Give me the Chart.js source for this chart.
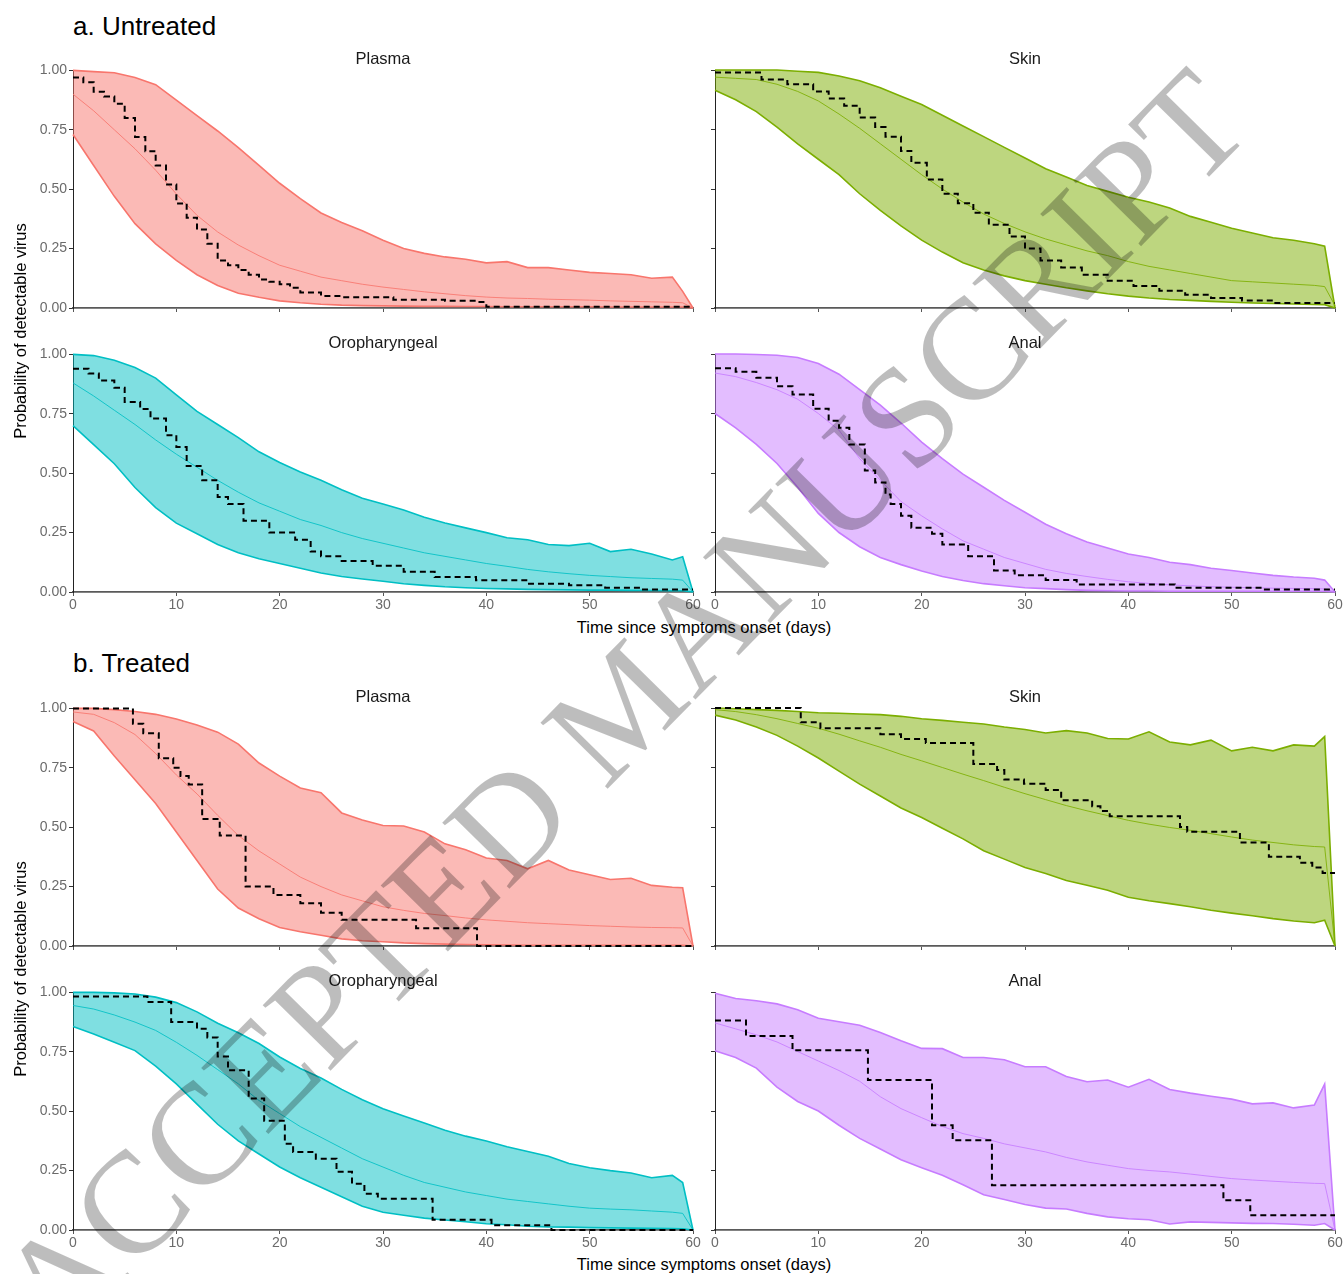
<!DOCTYPE html>
<html><head><meta charset="utf-8">
<script src="https://cdn.jsdelivr.net/npm/chart.js@4/dist/chart.umd.min.js"></script>
<style>
body{margin:0;width:1344px;height:1274px;position:relative;background:#fff;overflow:hidden;font-family:"Liberation Sans",Arial,sans-serif;}
canvas{position:absolute;}
.t{position:absolute;white-space:nowrap;}
.sec{font-size:26px;color:#000;}
.strip{font-size:16.5px;color:#1a1a1a;transform:translate(-50%,-50%);}
.axt{font-size:16.5px;color:#000;transform:translate(-50%,-50%);}
.yt{font-size:16.5px;color:#000;transform:translate(-50%,-50%) rotate(-90deg);}
#wm{position:absolute;left:622px;top:705px;transform:translate(-50%,-50%) rotate(-45.5deg);font-family:"Liberation Serif","Times New Roman",serif;font-size:144px;color:rgba(0,0,0,0.26);white-space:nowrap;pointer-events:none;}
</style></head><body>
<script>
// ---- data ----
const days = [0,2,4,6,8,10,12,14,16,18,20,22,24,26,28,30,32,34,36,38,40,42,44,46,48,50,52,54,56,58,59,60];
const xTicks = [0,10,20,30,40,50,60];
const yTicks = [0,0.25,0.5,0.75,1];
const panelNames = ['Plasma','Skin','Oropharyngeal','Anal'];
const sectionTitles = ['a. Untreated','b. Treated'];

// Untreated
const untreatedPlasmaUpper  = [1.00,.995,.99,.97,.94,.875,.81,.745,.675,.60,.525,.46,.40,.36,.325,.285,.25,.23,.215,.205,.19,.195,.17,.17,.16,.15,.145,.14,.125,.13,.07,0];
const untreatedPlasmaMedian = [.90,.83,.75,.67,.58,.48,.39,.32,.265,.22,.18,.155,.13,.115,.10,.088,.078,.068,.06,.052,.046,.042,.04,.037,.035,.033,.03,.028,.026,.024,.022,0];
const untreatedPlasmaLower  = [.73,.60,.47,.355,.27,.20,.14,.095,.062,.045,.03,.022,.016,.012,.01,.009,.008,.007,.007,.006,.006,.005,.005,.005,.005,.005,.004,.004,.004,.004,.004,0];
const untreatedPlasmaKmDays = [0,1,2,3,4,5,6,7,8,9,10,11,12,13,14,15,16,17,18,19,20,21,22,24,26,31,36,39,40,60];
const untreatedPlasmaKmVals = [.97,.95,.91,.89,.86,.80,.72,.66,.60,.52,.44,.38,.33,.27,.20,.18,.16,.14,.12,.11,.10,.085,.065,.05,.045,.035,.03,.025,.005,.005];

const untreatedSkinUpper  = [1.0,1.0,1.0,1.0,.995,.99,.975,.955,.925,.89,.855,.81,.765,.72,.675,.63,.585,.55,.515,.49,.465,.445,.42,.385,.36,.335,.315,.295,.285,.27,.26,0];
const untreatedSkinMedian = [.97,.965,.96,.94,.91,.87,.815,.755,.69,.625,.56,.50,.445,.395,.355,.32,.29,.265,.24,.22,.195,.175,.16,.145,.13,.115,.11,.105,.10,.095,.09,.01];
const untreatedSkinLower  = [.915,.875,.825,.76,.69,.625,.56,.48,.41,.345,.285,.235,.19,.16,.135,.115,.10,.085,.072,.06,.05,.042,.036,.032,.028,.024,.021,.019,.017,.015,.014,0];
const untreatedSkinKmDays = [0,4.5,7,9.5,11,12.5,14,15.5,16.5,18,19,20.5,22,23.5,25,26.5,28.5,30,31.5,33.5,35.5,38,40.5,43,45.5,48,51,54,60];
const untreatedSkinKmVals = [.99,.96,.94,.91,.88,.85,.80,.76,.72,.66,.61,.54,.48,.44,.40,.35,.30,.25,.20,.17,.14,.115,.092,.073,.056,.042,.031,.021,.021];

const untreatedOroUpper  = [1.0,.995,.975,.945,.90,.83,.76,.705,.65,.59,.545,.505,.47,.43,.395,.37,.345,.315,.29,.27,.25,.228,.22,.20,.195,.205,.17,.18,.16,.135,.148,0];
const untreatedOroMedian = [.88,.825,.765,.705,.64,.58,.525,.47,.42,.375,.34,.305,.28,.25,.225,.205,.185,.165,.15,.135,.12,.108,.095,.085,.077,.07,.065,.06,.057,.054,.05,0];
const untreatedOroLower  = [.70,.62,.54,.44,.355,.29,.245,.20,.165,.14,.12,.10,.08,.065,.055,.045,.035,.028,.022,.018,.015,.013,.011,.01,.009,.008,.008,.007,.006,.005,.005,0];
const untreatedOroKmDays = [0,1.5,2.5,4,5,6.5,7.5,9,10,11,12.5,14,15,16.5,19,21.5,23,24,26,29,32,35,39,44,48,51.5,55,60];
const untreatedOroKmVals = [.94,.92,.89,.86,.80,.77,.73,.66,.61,.53,.47,.40,.37,.30,.25,.22,.17,.15,.13,.11,.085,.063,.049,.035,.028,.018,.01,.01];

const untreatedAnalUpper  = [1.0,1.0,.998,.995,.985,.96,.915,.85,.785,.71,.63,.56,.495,.44,.385,.335,.285,.245,.21,.185,.16,.145,.125,.115,.10,.09,.08,.07,.063,.058,.05,0];
const untreatedAnalMedian = [.92,.905,.88,.85,.81,.75,.68,.56,.47,.38,.32,.265,.215,.18,.145,.12,.095,.078,.065,.053,.043,.036,.03,.026,.022,.02,.018,.016,.015,.014,.013,0];
const untreatedAnalLower  = [.75,.69,.62,.54,.44,.33,.25,.19,.145,.115,.088,.065,.048,.035,.026,.018,.014,.01,.007,.005,.004,.004,.003,.003,.003,.003,.003,.003,.003,.003,.003,0];
const untreatedAnalKmDays = [0,2,4,6,7.5,9.5,11,12,13,14.5,15.5,16.5,17,18,19,21,22,24.5,27,29,32,35,44.5,53,60];
const untreatedAnalKmVals = [.94,.925,.90,.865,.83,.77,.72,.69,.62,.51,.46,.41,.37,.32,.27,.245,.20,.15,.09,.07,.05,.032,.018,.011,.011];

// Treated
const treatedPlasmaUpper  = [1.0,1.0,.995,.987,.975,.955,.93,.90,.85,.77,.715,.665,.645,.56,.53,.507,.505,.48,.43,.405,.37,.36,.325,.36,.32,.30,.28,.285,.255,.247,.245,0];
const treatedPlasmaMedian = [.985,.975,.94,.89,.81,.72,.64,.55,.465,.40,.345,.29,.25,.215,.19,.165,.15,.137,.128,.118,.11,.104,.098,.094,.09,.086,.083,.08,.078,.077,.076,0];
const treatedPlasmaLower  = [.945,.905,.80,.70,.60,.48,.36,.24,.16,.115,.078,.06,.045,.03,.022,.018,.013,.01,.008,.006,.005,.004,.003,.003,.003,.003,.003,.003,.003,.003,.003,0];
const treatedPlasmaKmDays = [0,5.8,6.8,8.3,9.7,10.4,11.2,12.5,14.2,16.7,19.4,22,24,26,33.2,39.1,60];
const treatedPlasmaKmVals = [1.0,.935,.895,.79,.75,.715,.68,.535,.465,.25,.215,.18,.14,.11,.075,0,0];

const treatedSkinUpper  = [1.0,.997,.993,.99,.985,.98,.978,.975,.972,.965,.955,.948,.94,.933,.92,.91,.895,.905,.895,.872,.87,.90,.857,.845,.865,.82,.835,.82,.845,.84,.88,0];
const treatedSkinMedian = [.993,.985,.972,.955,.935,.915,.89,.862,.835,.805,.778,.75,.722,.695,.667,.64,.615,.59,.568,.548,.528,.512,.498,.486,.472,.458,.445,.435,.425,.418,.416,0];
const treatedSkinLower  = [.97,.95,.92,.885,.84,.79,.735,.68,.63,.58,.54,.495,.45,.40,.365,.33,.305,.275,.255,.234,.205,.19,.178,.165,.15,.138,.127,.115,.105,.098,.108,0];
const treatedSkinKmDays = [0,8.3,10.2,16,18,20.4,25,27.3,28,29.9,32,33.5,36.5,37.3,38.2,45,45.7,50.8,53.6,56.6,57.8,58.8,60];
const treatedSkinKmVals = [1.0,.94,.915,.89,.87,.853,.765,.74,.70,.682,.655,.612,.587,.567,.545,.50,.48,.435,.375,.35,.33,.307,.307];

const treatedOroUpper  = [1.0,1.0,.998,.993,.98,.957,.918,.87,.83,.785,.728,.68,.64,.592,.548,.51,.48,.45,.42,.395,.375,.35,.33,.31,.28,.262,.25,.24,.22,.23,.20,0];
const treatedOroMedian = [.945,.93,.905,.875,.84,.79,.735,.675,.615,.545,.49,.435,.39,.345,.30,.265,.23,.20,.18,.16,.145,.13,.12,.11,.10,.092,.088,.085,.08,.075,.07,0];
const treatedOroLower  = [.857,.825,.79,.755,.69,.615,.53,.445,.375,.32,.265,.22,.18,.14,.10,.075,.062,.05,.042,.035,.026,.022,.016,.013,.012,.01,.009,.008,.007,.006,.005,0];
const treatedOroKmDays = [0,7.2,9.5,12,13,14,15,17,18.5,20.5,21.3,23.5,25.5,27,28.2,29.5,34.8,40.5,46.3,60];
const treatedOroKmVals = [.983,.96,.875,.847,.81,.73,.672,.553,.46,.363,.328,.30,.245,.195,.153,.132,.043,.02,0,0];

const treatedAnalUpper  = [.995,.973,.963,.95,.925,.89,.875,.86,.83,.795,.763,.762,.725,.725,.715,.686,.686,.645,.623,.63,.60,.633,.59,.575,.562,.55,.53,.534,.513,.525,.613,0];
const treatedAnalMedian = [.87,.845,.82,.79,.75,.71,.67,.625,.56,.51,.472,.435,.405,.385,.362,.345,.328,.305,.286,.272,.258,.25,.244,.235,.225,.216,.21,.205,.2,.196,.195,0];
const treatedAnalLower  = [.753,.725,.68,.60,.54,.50,.44,.385,.34,.295,.262,.23,.19,.148,.128,.107,.092,.088,.07,.055,.047,.043,.025,.034,.032,.03,.028,.027,.024,.02,.027,0];
const treatedAnalKmDays = [0,3,7.5,14.8,21,23,26.8,49.2,51.8,60];
const treatedAnalKmVals = [.88,.815,.755,.63,.44,.377,.188,.125,.062,.062];

const panelColors = ['#F8766D','#7CAE00','#00BFC4','#C77CFF'];

// ---- layout ----
const rowTops = [70,354,708,992];
const plotH = 238;
const colLeft = [73,715];
const colRight = [693,1335];

const panels = [
  {row:0,col:0,name:0,u:untreatedPlasmaUpper,m:untreatedPlasmaMedian,l:untreatedPlasmaLower,kd:untreatedPlasmaKmDays,kv:untreatedPlasmaKmVals},
  {row:0,col:1,name:1,u:untreatedSkinUpper,m:untreatedSkinMedian,l:untreatedSkinLower,kd:untreatedSkinKmDays,kv:untreatedSkinKmVals},
  {row:1,col:0,name:2,u:untreatedOroUpper,m:untreatedOroMedian,l:untreatedOroLower,kd:untreatedOroKmDays,kv:untreatedOroKmVals},
  {row:1,col:1,name:3,u:untreatedAnalUpper,m:untreatedAnalMedian,l:untreatedAnalLower,kd:untreatedAnalKmDays,kv:untreatedAnalKmVals},
  {row:2,col:0,name:0,u:treatedPlasmaUpper,m:treatedPlasmaMedian,l:treatedPlasmaLower,kd:treatedPlasmaKmDays,kv:treatedPlasmaKmVals},
  {row:2,col:1,name:1,u:treatedSkinUpper,m:treatedSkinMedian,l:treatedSkinLower,kd:treatedSkinKmDays,kv:treatedSkinKmVals},
  {row:3,col:0,name:2,u:treatedOroUpper,m:treatedOroMedian,l:treatedOroLower,kd:treatedOroKmDays,kv:treatedOroKmVals},
  {row:3,col:1,name:3,u:treatedAnalUpper,m:treatedAnalMedian,l:treatedAnalLower,kd:treatedAnalKmDays,kv:treatedAnalKmVals},
];

function hexA(h,a){const r=parseInt(h.slice(1,3),16),g=parseInt(h.slice(3,5),16),b=parseInt(h.slice(5,7),16);return `rgba(${r},${g},${b},${a})`;}
function addText(cls,txt,x,y){const d=document.createElement('div');d.className='t '+cls;d.textContent=txt;d.style.left=x+'px';d.style.top=y+'px';document.body.appendChild(d);return d;}

const tickFont = {family:'"Liberation Sans", Arial, sans-serif', size:14};
const tickColor = '#6b6b6b';

panels.forEach(p=>{
  const padTop = 10, xH = 24;
  const canvasLeft = p.col===0 ? 0 : 703;
  const canvasRight = p.col===0 ? 703 : 1344;
  const yW = colLeft[p.col] - canvasLeft;
  const padRight = canvasRight - colRight[p.col];
  const c = document.createElement('canvas');
  const W = canvasRight - canvasLeft, H = padTop + plotH + xH;
  c.width = W; c.height = H;
  c.style.left = canvasLeft+'px'; c.style.top = (rowTops[p.row]-padTop)+'px';
  document.body.appendChild(c);
  const col = panelColors[p.name];
  const showX = (p.row===1 || p.row===3);
  const showY = p.col===0;
  new Chart(c,{
    type:'line',
    data:{datasets:[
      {data:days.map((d,i)=>({x:d,y:p.u[i]})),borderColor:col,borderWidth:1.6,backgroundColor:hexA(col,0.5),fill:'+1',pointRadius:0,tension:0,clip:6,order:3},
      {data:days.map((d,i)=>({x:d,y:p.l[i]})),borderColor:col,borderWidth:1.6,fill:false,pointRadius:0,tension:0,clip:6,order:3},
      {data:days.map((d,i)=>({x:d,y:p.m[i]})),borderColor:hexA(col,0.85),borderWidth:1,fill:false,pointRadius:0,tension:0,clip:6,order:2},
      {data:p.kd.map((d,i)=>({x:d,y:p.kv[i]})),borderColor:'#000',borderWidth:2,borderDash:[6,4],stepped:true,fill:false,pointRadius:0,clip:6,order:1}
    ]},
    options:{
      responsive:false,animation:false,devicePixelRatio:1,
      layout:{padding:{top:padTop,right:padRight,left:0,bottom:0}},
      plugins:{legend:{display:false},tooltip:{enabled:false},title:{display:false}},
      scales:{
        x:{type:'linear',min:0,max:60,
          afterBuildTicks:s=>{s.ticks=xTicks.map(v=>({value:v}));},
          ticks:{display:showX,font:tickFont,color:tickColor,padding:1,maxRotation:0,autoSkip:false,callback:v=>String(v)},
          grid:{display:true,drawOnChartArea:false,drawTicks:true,tickLength:4,color:'#555',lineWidth:1},
          border:{display:true,color:'#5a5a5a',width:1.8},
          afterFit:s=>{s.height=xH;}},
        y:{type:'linear',min:0,max:1,
          afterBuildTicks:s=>{s.ticks=yTicks.map(v=>({value:v}));},
          ticks:{display:showY,font:tickFont,color:tickColor,padding:2,callback:v=>Number(v).toFixed(2)},
          grid:{display:true,drawOnChartArea:false,drawTicks:true,tickLength:4,color:'#333',lineWidth:1},
          border:{display:true,color:'#222',width:1},
          afterFit:s=>{s.width=yW;}}
      }
    }
  });
  const cx = (colLeft[p.col]+colRight[p.col])/2;
  addText('strip',panelNames[p.name],cx,rowTops[p.row]-12);
});

addText('sec',sectionTitles[0],73,11);
addText('sec',sectionTitles[1],73,648);
addText('axt','Time since symptoms onset (days)',704,627);
addText('axt','Time since symptoms onset (days)',704,1264);
addText('yt','Probability of detectable virus',20,331);
addText('yt','Probability of detectable virus',20,969);

const wm=document.createElement('div');wm.id='wm';wm.textContent='ACCEPTED MANUSCRIPT';document.body.appendChild(wm);
</script>
</body></html>
